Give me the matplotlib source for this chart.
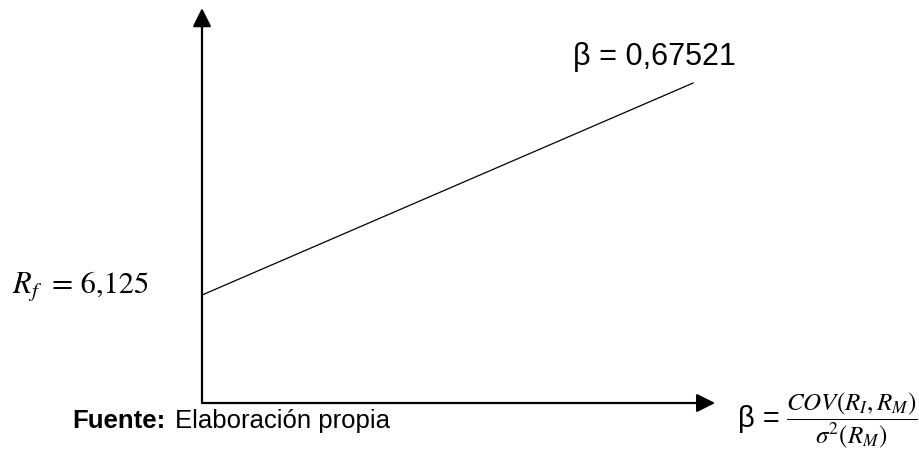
import matplotlib.pyplot as plt
import numpy as np

# Security market line: risk-free rate and beta
rf = 6.125
beta = 0.67521
x_end = 17.81          # where the drawn line stops
x_axis_end = 18.61     # tip of the horizontal arrow
y_axis_end = 22.4      # tip of the vertical arrow

plt.rcParams['mathtext.fontset'] = 'stix'

W, H = 920, 449
fig = plt.figure(figsize=(W / 100, H / 100), dpi=100)
ax = fig.add_axes([202 / W, 46 / H, 718 / W, 403 / H])
ax.set_xlim(0, 26.04)
ax.set_ylim(0, 22.86)
ax.axis('off')

# axes drawn as arrows
arrow = dict(arrowstyle='-|>', color='black', lw=1.6, mutation_scale=28,
             shrinkA=0, shrinkB=0)
ax.annotate('', xy=(x_axis_end, 0), xytext=(0, 0), arrowprops=arrow)
ax.annotate('', xy=(0, y_axis_end), xytext=(0, 0), arrowprops=arrow)

# the line itself
xs = np.array([0, x_end])
ax.plot(xs, rf + beta * xs, color='black', lw=0.9, clip_on=False)


def px(x, y):
    return x / W, 1 - y / H


# intercept label
fig.text(*px(12, 293), r'$R_f$', fontsize=22, va='baseline', ha='left')
fig.text(*px(52, 293), '= ' + f'{rf:.3f}'.replace('.', ','), fontsize=22,
         family='STIXGeneral', va='baseline', ha='left')

# slope label
fig.text(*px(573, 65), 'β = ' + f'{beta:.5f}'.replace('.', ','),
         fontsize=22, family='Liberation Sans', va='baseline', ha='left')

# source note
fig.text(*px(72, 428), 'Fuente:', fontsize=18.5, family='Liberation Sans',
         weight='bold', va='baseline', ha='left')
fig.text(*px(175, 428), 'Elaboración propia', fontsize=18.5,
         family='Liberation Sans', va='baseline', ha='left')

# x-axis label
fig.text(*px(738, 427), 'β =', fontsize=21, family='Liberation Sans',
         va='baseline', ha='left')
fig.text(*px(786, 420), r'$\dfrac{COV(R_I,R_M)}{\sigma^2(R_M)}$',
         fontsize=18, va='center', ha='left')

fig.savefig('out.png', dpi=100)
